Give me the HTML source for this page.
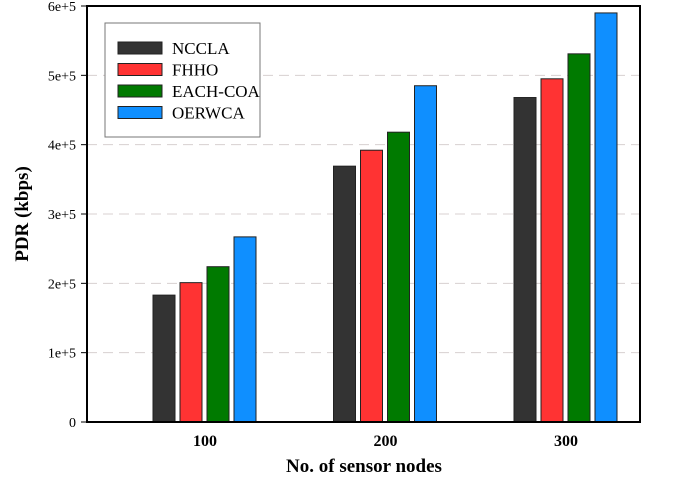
<!DOCTYPE html>
<html><head><meta charset="utf-8"><style>
body{margin:0;background:#fff;}
svg text{font-family:"Liberation Serif",serif;}
</style></head><body>
<svg id="chart" width="685" height="478" xmlns="http://www.w3.org/2000/svg">
<g id="grid"></g>
<g id="bars"></g>
<rect x="87" y="6" width="553" height="416" fill="none" stroke="#000" stroke-width="2"/>
<g id="yticks"></g>
<g id="xticks"></g>
<text transform="translate(28,214) rotate(-90)" text-anchor="middle" font-size="19" font-weight="bold">PDR (kbps)</text>
<text x="364" y="472" text-anchor="middle" font-size="19" font-weight="bold">No. of sensor nodes</text>
<g>
<rect x="105" y="23" width="155" height="114" fill="#fff" stroke="#777" stroke-width="1"/>
<g id="legend"></g>
</g>
</svg>
<script>
const categories=["100","200","300"];
const seriesNames=["NCCLA","FHHO","EACH-COA","OERWCA"];
const colors=["#333333","#ff3333","#007a00","#0f8fff"];
const nccla=[183000,369000,468000];
const fhho=[201000,392000,495000];
const eachcoa=[224000,418000,531000];
const oerwca=[267000,485000,590000];
const yTicks=[0,100000,200000,300000,400000,500000,600000];
const yTickLabels=["0","1e+5","2e+5","3e+5","4e+5","5e+5","6e+5"];
const series=[nccla,fhho,eachcoa,oerwca];
const NS="http://www.w3.org/2000/svg";
function y(v){return 422-v*(416/600000);}
function xc(i){return 205+i*180.5;}
function mk(t,a,p){const e=document.createElementNS(NS,t);for(const k in a)e.setAttribute(k,a[k]);p.appendChild(e);return e;}
const grid=document.getElementById('grid'),yt=document.getElementById('yticks'),xt=document.getElementById('xticks'),bars=document.getElementById('bars'),leg=document.getElementById('legend');
yTicks.forEach((v,i)=>{
  if(i>0&&i<yTicks.length-1){const g=mk('line',{x1:87,x2:640,y1:y(v),y2:y(v),stroke:'#d8d0d0','stroke-dasharray':'10,6'},grid);
  
  }
  const tk=mk('line',{x1:81,x2:87,y1:y(v),y2:y(v),stroke:'#000'},yt);
  
  
  const t=mk('text',{x:76,y:y(v)+5,'text-anchor':'end','font-size':14},yt);
  
  
  t.textContent=yTickLabels[i];
});
categories.forEach((c,i)=>{
  const t=mk('text',{x:xc(i),y:446,'text-anchor':'middle','font-size':16,'font-weight':'bold'},xt);
  
  
  t.textContent=c;
  series.forEach((s,j)=>{
    const x=xc(i)-52+j*27;
    const r=mk('rect',{x:x,y:y(s[i]),width:22,height:422-y(s[i]),fill:colors[j],stroke:'#222','stroke-width':1},bars);
    
    
  });
});
seriesNames.forEach((n,j)=>{
  const yy=42+j*21.5;
  const r=mk('rect',{x:118,y:yy,width:44,height:12,fill:colors[j],stroke:'#222'},leg);
  
  
  const t=mk('text',{x:172,y:yy+12,'font-size':17},leg);
  
  
  t.textContent=n;
});
</script>
</body></html>
